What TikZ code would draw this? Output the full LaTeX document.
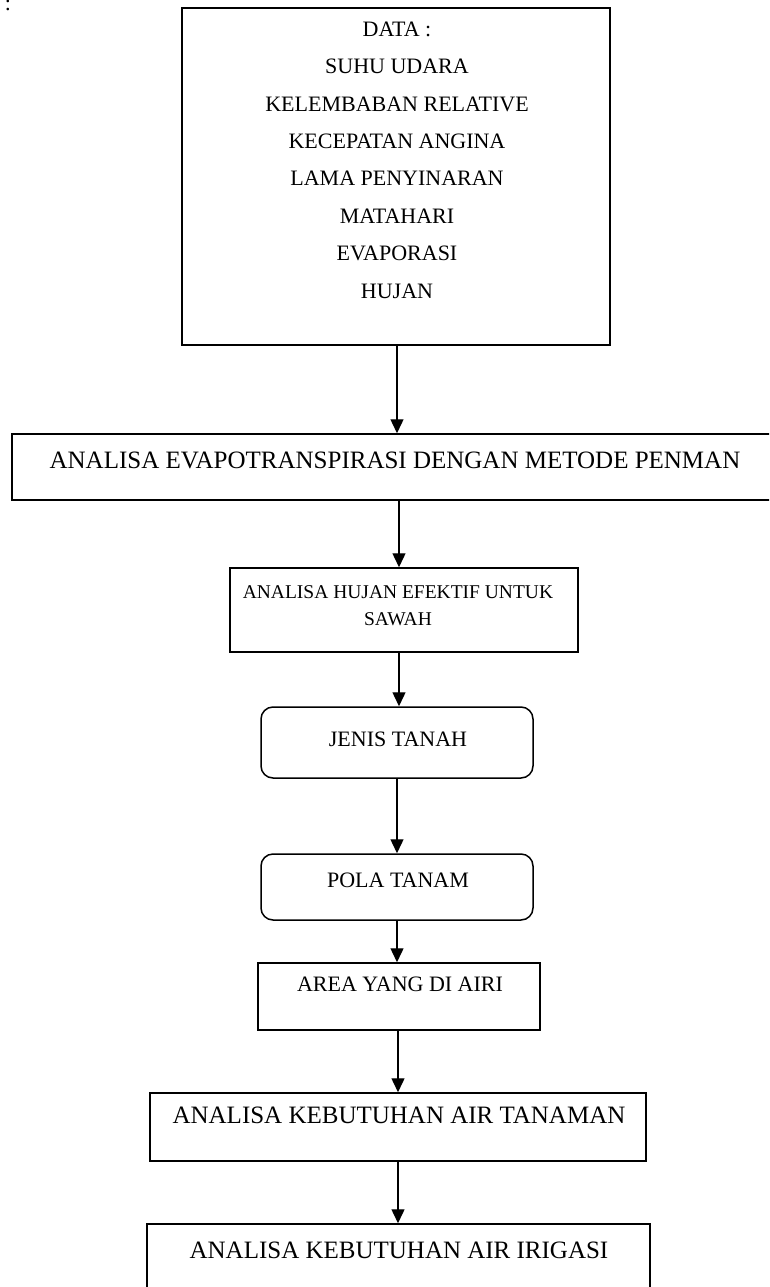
\documentclass[tikz,border=0pt]{standalone}
\usepackage{fontspec}
\setmainfont{Liberation Serif}
\usetikzlibrary{arrows.meta}
\tikzset{
  box/.style={draw, line width=1.5pt, inner sep=0pt},
  rbox/.style={draw, line width=1.5pt, inner sep=0pt, rounded corners=12pt},
  lbl/.style={font=\fontsize{22}{26.5}\selectfont, align=center, inner sep=0pt},
  biglbl/.style={lbl, font=\fontsize{25}{30}\selectfont},
  smalllbl/.style={lbl, font=\fontsize{19.5}{27}\selectfont},
  flow/.style={line width=1.4pt, -{Triangle[length=14pt,width=13pt]}}
}
\begin{document}
\begin{tikzpicture}[x=1pt,y=-1pt]
\clip (0,0) rectangle (769,1287);
\useasboundingbox (0,0) rectangle (769,1287);
\node[lbl] (colon) at (8,5) {:};
% boxes
\node[box, minimum width=428pt, minimum height=337pt] (data) at (396,176.5) {};
\node[lbl, font=\fontsize{22}{37.4}\selectfont] (datat) at (397,160) {DATA :\\SUHU UDARA\\KELEMBABAN RELATIVE\\KECEPATAN ANGINA\\LAMA PENYINARAN\\MATAHARI\\EVAPORASI\\HUJAN};
\node[box, minimum width=770pt, minimum height=66pt] (eto) at (397,467) {};
\node[biglbl] (etot) at (395,460) {ANALISA EVAPOTRANSPIRASI DENGAN METODE PENMAN};
\node[box, minimum width=348pt, minimum height=84pt] (he) at (404,610) {};
\node[smalllbl] (het) at (398,605.5) {ANALISA HUJAN EFEKTIF UNTUK\\SAWAH};
\node[rbox, minimum width=272pt, minimum height=71pt] (jt) at (397,742.5) {};
\node[lbl] (jtt) at (398,739) {JENIS TANAH};
\node[rbox, minimum width=272pt, minimum height=66pt] (pt) at (397,887) {};
\node[lbl] (ptt) at (398,880) {POLA TANAM};
\node[box, minimum width=282pt, minimum height=67pt] (ar) at (399,996.5) {};
\node[lbl] (art) at (400,984) {AREA YANG DI AIRI};
\node[box, minimum width=496pt, minimum height=68pt] (kt) at (398,1127) {};
\node[biglbl] (ktt) at (399,1115) {ANALISA KEBUTUHAN AIR TANAMAN};
\node[box, minimum width=503pt, minimum height=120pt] (ki) at (398.5,1284) {};
\node[biglbl] (kit) at (399,1250) {ANALISA KEBUTUHAN AIR IRIGASI};
% arrows
\draw[flow] (data.south -| 397,0) -- (eto.north -| 397,0);
\draw[flow] (eto.south -| 399,0) -- (he.north -| 399,0);
\draw[flow] (he.south -| 399,0) -- (jt.north -| 399,0);
\draw[flow] (jt.south -| 397,0) -- (pt.north -| 397,0);
\draw[flow] (pt.south -| 397,0) -- (ar.north -| 397,0);
\draw[flow] (ar.south -| 398,0) -- (kt.north -| 398,0);
\draw[flow] (kt.south -| 398,0) -- (ki.north -| 398,0);
\end{tikzpicture}
\end{document}
